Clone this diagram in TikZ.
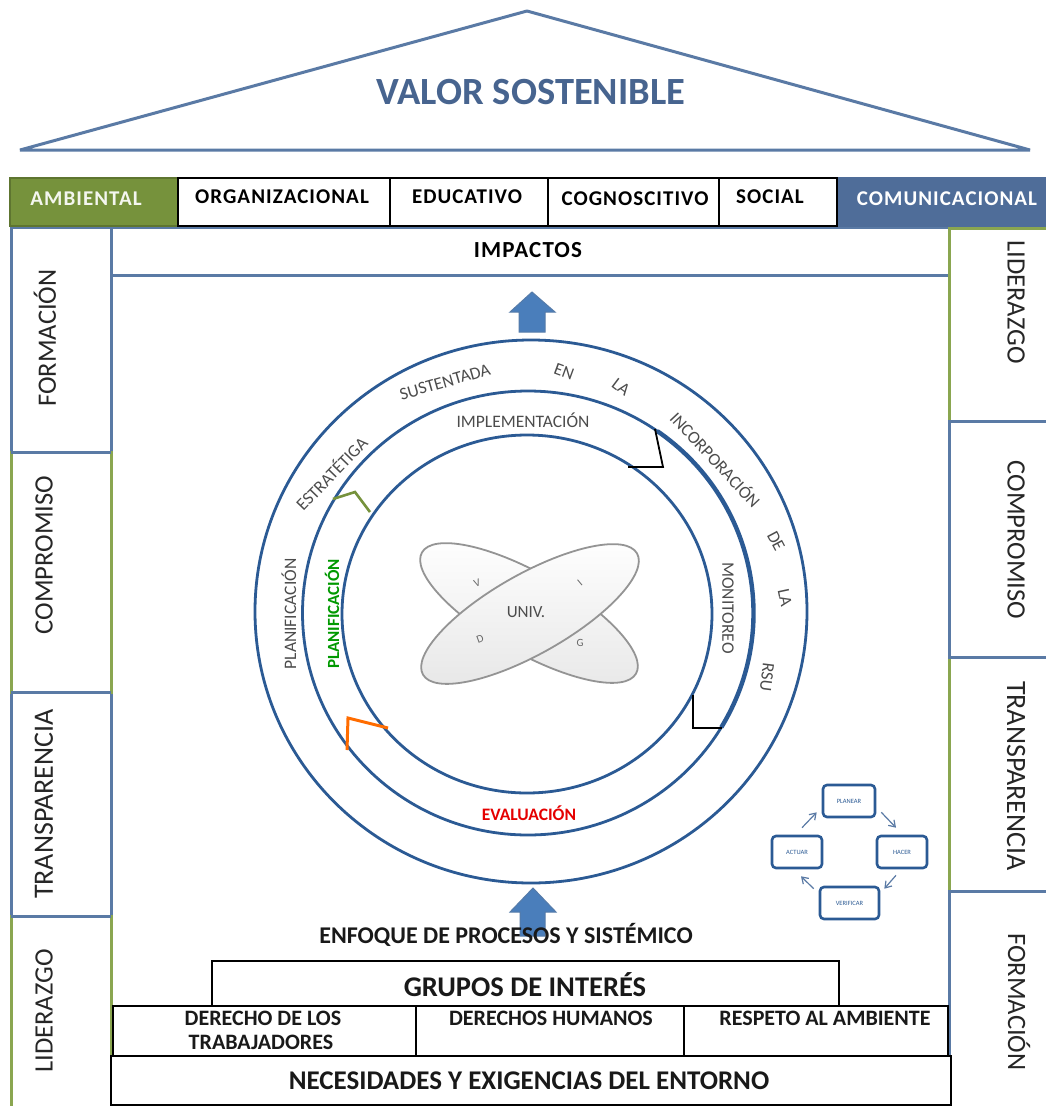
\documentclass[tikz,border=0pt]{standalone}
\usepackage{fontspec}
\setmainfont{Carlito}
\newfontfamily\widefam[LetterSpace=5]{Carlito}
\usetikzlibrary{shapes.geometric,calc,arrows.meta}
\definecolor{lineblue}{HTML}{5A7AA5}
\definecolor{linegreen}{HTML}{8AA650}
\definecolor{titleblue}{HTML}{47648F}
\definecolor{ringblue}{HTML}{2B5A94}
\definecolor{ambgreen}{HTML}{76923C}
\definecolor{comblue}{HTML}{4F6D99}
\definecolor{arrowblue}{HTML}{4A7EBB}
\newcommand{\fs}[1]{\fontsize{#1}{#1}\selectfont}
\tikzset{
  blueedge/.style={draw=lineblue,line width=3pt,fill=white},
  greenedge/.style={draw=linegreen,line width=3pt,fill=white},
  blackedge/.style={draw=black,line width=1.6pt,fill=white},
  toplabel/.style={font=\widefam\fs{21}\bfseries,text=black,inner sep=0pt},
  sidelabel/.style={font=\fs{26.5},text=black!85,inner sep=0pt},
  botlabel/.style={font=\fs{22}\bfseries,text=black!90,inner sep=0pt},
  ringlabel/.style={font=\fs{17.5},text=black!70,inner sep=0pt},
  ring/.style={draw=ringblue,line width=2.8pt},
  lobe/.style={ellipse,draw=black!42,line width=1.8pt,top color=white,bottom color=black!9,minimum width=246pt,minimum height=80pt,inner sep=0pt},
  lobeletter/.style={font=\fs{11},text=black!60,inner sep=0pt},
  cyclebox/.style={draw=ringblue,line width=2.6pt,rounded corners=4pt,fill=white,font=\fs{6.5},text=ringblue,inner sep=0pt},
  cyclearrow/.style={draw=lineblue,line width=1.2pt,-{Straight Barb[length=6pt,width=8pt]}},
  blockarrow/.style={draw=ringblue!80,line width=1pt,fill=arrowblue},
  corner/.style={line width=1.8pt,line join=miter},
}
\begin{document}
\begin{tikzpicture}[x=1pt,y=-1pt]
\useasboundingbox (0,0) rectangle (1046,1106);
\fill[white] (0,0) rectangle (1046,1106);
% roof
\draw[draw=lineblue,line width=3pt,line join=bevel,fill=white] (20,150) -- (527,11) -- (1030,150) -- cycle;
\node[font=\fs{38.5}\bfseries,text=titleblue,inner sep=0pt] (valor) at (531,92) {VALOR SOSTENIBLE};
% main frame
\draw[blueedge] (111,227) rectangle (949,1056);
\draw[blueedge] (111,227) rectangle (949,275);
\node[toplabel,font=\widefam\fs{23}\bfseries] (impactos) at (528,250) {IMPACTOS};
% left column
\draw[blueedge] (11,227) rectangle (111,452);
\draw[blueedge] (11,692) rectangle (111,916);
\draw[greenedge] (11,452) rectangle (111,692);
\draw[greenedge] (11,916) rectangle (111,1108);
\draw[blueedge,fill=none] (11,452) -- (111,452) (11,692) -- (111,692) (11,916) -- (111,916);
\node[sidelabel] at (45,338) [rotate=90] (lf) {FORMACIÓN};
\node[sidelabel] at (44,555) [rotate=90] (lc) {COMPROMISO};
\node[sidelabel,font=\fs{28}] at (44,804) [rotate=90] (lt) {TRANSPARENCIA};
\node[sidelabel] at (44,1011) [rotate=90] (ll) {LIDERAZGO};
% right column
\draw[greenedge] (949,228) rectangle (1050,421);
\draw[greenedge] (949,657) rectangle (1050,891);
\draw[blueedge] (949,421) rectangle (1050,657);
\draw[blueedge] (949,891) rectangle (1050,1108);
\node[sidelabel,rotate=-90] (rl) at (1016,302) {LIDERAZGO};
\node[sidelabel,rotate=-90] (rc) at (1016,540) {COMPROMISO};
\node[sidelabel,rotate=-90,font=\fs{28}] (rt) at (1016,776) {TRANSPARENCIA};
\node[sidelabel,rotate=-90] (rf) at (1019,1002) {FORMACIÓN};
% top row
\draw[draw=ambgreen!80!black,line width=2pt,fill=ambgreen] (10,178) rectangle (178,226);
\draw[draw=comblue,line width=2pt,fill=comblue] (837,178) rectangle (1048,226);
\draw[blackedge] (178,178) rectangle (390,226);
\draw[blackedge] (390,178) rectangle (548,226);
\draw[blackedge] (548,178) rectangle (719,226);
\draw[blackedge] (719,178) rectangle (837,226);
\node[toplabel,text=white!92!ambgreen] (amb) at (86,199) {AMBIENTAL};
\node[toplabel] (org) at (282,197) {ORGANIZACIONAL};
\node[toplabel] (edu) at (467,197) {EDUCATIVO};
\node[toplabel] (cog) at (635,199) {COGNOSCITIVO};
\node[toplabel] (soc) at (770,197) {SOCIAL};
\node[toplabel,text=white] (com) at (947,199) {COMUNICACIONAL};
% block arrows
\draw[blockarrow] (532,292) -- (555,312) -- (545,312) -- (545,332) -- (519,332) -- (519,312) -- (510,312) -- cycle;
\draw[blockarrow] (533,888) -- (556,912) -- (545,912) -- (545,936) -- (520,936) -- (520,912) -- (510,912) -- cycle;
% rings
\draw[ring] (531,611.5) ellipse [x radius=276,y radius=271.5];
\draw[ring] (528,613) ellipse [x radius=225.5,y radius=222];
\draw[ring] (527,614) ellipse [x radius=185,y radius=179];
\draw[ring,line width=4.4pt] (528,613) ++(-55:225.5 and 222) arc[start angle=-55,end angle=31,x radius=225.5,y radius=222];
% corner marks
\draw[corner,draw=black] (655,429) -- (663,467) -- (628,467);
\draw[corner,draw=black] (693,695) -- (693,728) -- (722,728);
\draw[corner,draw=ambgreen,line width=2.6pt] (333,499) -- (355,492) -- (370,512);
\draw[corner,draw=orange!85!red,line width=3pt] (347,750) -- (348,718) -- (388,728);
% ring labels
\node[ringlabel,rotate=46] (t1) at (331,473) {ESTRATÉTIGA};
\node[ringlabel,rotate=16] (t2) at (445,382) {SUSTENTADA};
\node[ringlabel,rotate=-20] (t3) at (564,372) {EN};
\node[ringlabel,rotate=-37] (t4) at (621,387) {LA};
\node[ringlabel,rotate=-47] (t5) at (716,459) {INCORPORACIÓN};
\node[ringlabel,rotate=-62] (t6) at (776,541) {DE};
\node[ringlabel,rotate=-78] (t7) at (785,598) {LA};
\node[ringlabel,rotate=-97] (t8) at (767,677) {RSU};
\node[ringlabel,rotate=90] (t9) at (289,614) {PLANIFICACIÓN};
\node[ringlabel,rotate=90,text=green!60!black,font=\fs{17}\bfseries] (t10) at (332,614) {PLANIFICACIÓN};
\node[ringlabel] (t11) at (523,420) {IMPLEMENTACIÓN};
\node[ringlabel,rotate=-90] (t12) at (728,608) {MONITOREO};
\node[ringlabel,text=red!90!black,font=\fs{17.5}\bfseries] (t13) at (529,813) {EVALUACIÓN};
% lobes
\node[lobe,rotate=-29.5] (lobea) at (529,613) {};
\node[lobe,rotate=29.5] (lobeb) at (530,614) {};
\node[font=\fs{17},text=black!70,inner sep=0pt] (univ) at (526,612) {UNIV.};
\node[lobeletter,rotate=20] (v) at (477,583) {V};
\node[lobeletter,rotate=40] (i) at (580,583) {I};
\node[lobeletter,rotate=20] (d) at (480,639) {D};
\node[lobeletter] (g) at (580,643) {G};
% PDCA cycle
\node[cyclebox,minimum width=52pt,minimum height=32pt] (pl) at (849,801) {PLANEAR};
\node[cyclebox,minimum width=50pt,minimum height=32pt] (ha) at (902,852) {HACER};
\node[cyclebox,minimum width=59pt,minimum height=32pt] (ve) at (849.5,903) {VERIFICAR};
\node[cyclebox,minimum width=50pt,minimum height=32pt] (ac) at (797,852) {ACTUAR};
\draw[cyclearrow] ($(pl.south east)+(5,-6)$) -- ($(ha.north)+(-6,-7)$);
\draw[cyclearrow] ($(ha.south)+(-6,6)$) -- ($(ve.north east)+(4,3)$);
\draw[cyclearrow] ($(ve.north west)+(-5,3)$) -- ($(ac.south)+(4,7)$);
\draw[cyclearrow] ($(ac.north)+(5,-7)$) -- ($(pl.south west)+(-5,-6)$);
% bottom block
\node[font=\fs{24}\bfseries,text=black!90,inner sep=0pt] (enf) at (506,935) {ENFOQUE DE PROCESOS Y SISTÉMICO};
\draw[blackedge] (212,1006) -- (212,961) -- (839,961) -- (839,1006);
\node[font=\fs{28.5}\bfseries,text=black!90,inner sep=0pt] (gr) at (525,985) {GRUPOS DE INTERÉS};
\draw[blackedge,line width=1.4pt] (113,1006) rectangle (416,1056);
\draw[blackedge,line width=1.4pt] (416,1006) rectangle (684,1056);
\draw[blackedge,line width=1.4pt] (684,1006) rectangle (948,1056);
\node[botlabel] (d1a) at (263,1018) {DERECHO DE LOS};
\node[botlabel] (d1b) at (261,1042) {TRABAJADORES};
\node[botlabel] (d2) at (551,1018) {DERECHOS HUMANOS};
\node[botlabel] (d3) at (825,1018) {RESPETO AL AMBIENTE};
\draw[blackedge] (111,1056) rectangle (951,1105);
\node[font=\fs{27}\bfseries,text=black!90,inner sep=0pt] (nec) at (529,1081) {NECESIDADES Y EXIGENCIAS DEL ENTORNO};
\end{tikzpicture}
\end{document}
